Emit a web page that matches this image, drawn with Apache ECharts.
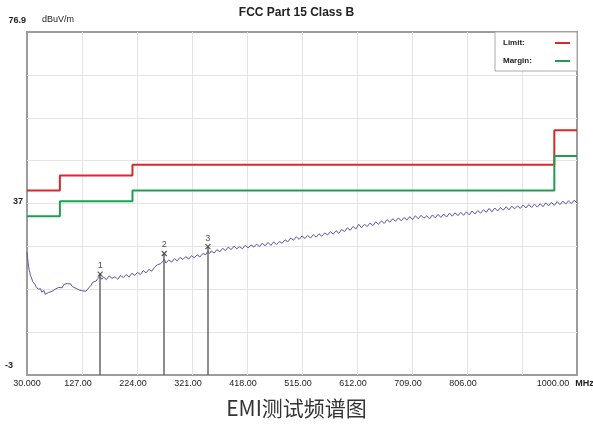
<!DOCTYPE html>
<html><head><meta charset="utf-8">
<script src="https://cdn.jsdelivr.net/npm/echarts@6/dist/echarts.min.js"></script>
<style>html,body{margin:0;padding:0;background:#fff}#c{width:593px;height:428px}</style>
</head><body><div id="c"></div>
<script>
const X_MIN = 30, X_MAX = 1000, X_DIV = 10;
const Y_MIN = -3, Y_MAX = 76.9, Y_DIV = 8;
const xTickLabels = ['30.000','127.00','224.00','321.00','418.00','515.00','612.00','709.00','806.00','','1000.00'];
const yTickLabels = ['-3','','','','37','','','','76.9'];

const limitFreqs = [30, 88, 216, 960, 1000];
const limitVals  = [40, 43.5, 46, 54, 54];
const marginVals = [34, 37.5, 40, 48, 48];

const traceFreqs = [30,31,32,33,34,35,36,38,40,42,44,46,48,50,52,54,56,58,60,62,65,68,71,74,77,80,83,86,89,92,95,98,101,104,107,110,113,116,119,122,125,128,131,134,137,140,143,146,149,152,155,159,162,
165,170,175,180,185,190,195,200,205,210,215,220,225,230,235,240,245,250,255,260,265,270,272,275,280,285,290,295,300,305,310,315,320,325,330,335,340,345,349,352,355,360,365,370,375,380,385,390,395,400,
405,410,415,420,425,430,435,440,445,450,455,460,465,470,475,480,485,490,495,500,505,510,515,520,525,530,535,540,545,550,555,560,565,570,575,580,585,590,595,600,
605,610,615,620,625,630,635,640,645,650,655,660,665,670,675,680,685,690,695,700,705,710,715,720,725,730,735,740,745,750,755,760,765,770,775,780,785,790,795,800,
805,810,815,820,825,830,835,840,845,850,855,860,865,870,875,880,885,890,895,900,905,910,915,920,925,930,935,940,945,950,955,960,965,970,975,980,985,990,995,1000];
const traceVals = [25.6,24.3,23.1,22.2,21.4,20.9,20.2,19.6,18.8,18.9,18.1,17.6,17.9,17.0,16.6,17.1,16.3,16.0,16.7,15.8,15.4,16.2,15.9,16.5,16.2,17.0,16.6,17.4,17.8,17.3,18.1,17.7,18.3,17.9,18.2,17.6,17.9,17.2,17.4,16.8,17.1,16.6,16.9,16.5,17.0,17.4,17.9,18.6,18.2,18.9,19.5,19.9,19.3,
19.8,19.2,20.1,19.5,19.9,19.3,20.2,19.7,20.4,19.8,20.7,20.2,20.9,20.4,21.3,20.8,21.6,21.2,22.1,22.7,22.9,23.5,24.0,23.1,23.8,23.3,24.1,23.6,24.4,23.9,24.6,24.0,24.8,24.3,25.0,24.5,25.3,25.0,25.9,25.3,25.9,25.4,26.2,25.7,26.5,26.0,26.8,26.2,27.0,26.4,
26.9,26.4,27.2,26.6,27.3,26.8,27.5,26.9,27.7,27.1,27.9,27.2,28.0,27.4,28.1,27.7,28.5,28.0,28.9,28.4,29.2,28.6,29.4,28.8,29.5,28.9,29.7,29.1,29.9,29.3,30.1,29.6,30.4,29.8,30.6,30.0,30.9,30.4,31.3,30.7,
31.6,31.0,32.1,31.3,32.1,31.6,32.4,31.8,32.7,32.1,32.9,32.3,33.2,32.6,33.4,32.8,33.6,32.9,33.7,33.1,33.9,33.2,34.1,33.4,34.2,33.5,34.1,33.4,34.3,33.6,34.4,33.7,34.5,33.8,34.7,34.0,34.8,34.1,34.9,34.2,
35.0,34.3,35.2,34.5,35.3,34.7,35.5,34.9,35.8,35.0,35.9,35.2,36.0,35.4,36.2,35.5,36.3,35.7,36.4,35.8,36.6,35.9,36.7,36.0,36.8,36.1,36.9,36.2,37.1,36.4,37.2,36.5,37.4,36.7,37.5,36.8,37.6,36.9,37.7,37.1];

const markerNames = ['1', '2', '3'];
const markerFreqs = [159, 272, 349];
const markerVals  = [20.5, 25.3, 26.9];

const chart = echarts.init(document.getElementById('c'));
const font = 'Liberation Sans, Arial, sans-serif';
const gridColor = '#e4e4e4';
const legendFont = 'bold 8px ' + font;
const mctx = document.createElement('canvas').getContext('2d');
mctx.font = legendFont;
const LEGEND_TEXT_W = 47;

chart.setOption({
  animation: false,
  backgroundColor: '#fff',
  title: [
    { text: 'FCC Part 15 Class B', left: 'center', top: 7, padding: 0,
      textStyle: { fontSize: 12, fontWeight: 'bold', color: '#222', fontFamily: font } },
    { text: 'EMI测试频谱图', left: 'center', top: 398, padding: 0,
      textStyle: { fontSize: 21, fontWeight: 'normal', color: '#333', fontFamily: 'Noto Sans CJK SC' } }
  ],
  grid: { left: 27, right: 16, top: 32, bottom: 53, containLabel: false, outerBoundsMode: 'none',
    show: true, borderColor: '#9c9c9c', borderWidth: 2, backgroundColor: 'transparent' },
  legend: {
    data: ['Limit', 'Margin'], orient: 'vertical', right: 16, top: 32, align: 'right',
    backgroundColor: '#fff', borderColor: '#aaa', borderWidth: 1, padding: [7, 7, 6, 8],
    itemGap: 10, itemWidth: 15, itemHeight: 2, icon: 'rect',
    formatter: n => '{t' + n + '|' + n + ':}',
    textStyle: { fontSize: 8, fontWeight: 'bold', color: '#222', fontFamily: font,
      rich: {
        tLimit: { fontSize: 8, fontWeight: 'bold', color: '#222', fontFamily: font,
          padding: [0, Math.max(0, LEGEND_TEXT_W - mctx.measureText('Limit:').width), 0, 0] },
        tMargin: { fontSize: 8, fontWeight: 'bold', color: '#222', fontFamily: font,
          padding: [0, Math.max(0, LEGEND_TEXT_W - mctx.measureText('Margin:').width), 0, 0] }
      } }
  },
  xAxis: [
    { type: 'value', min: X_MIN, max: X_MAX, show: false },
    { type: 'value', min: 0, max: X_DIV, interval: 1, position: 'bottom',
      axisLine: { show: false }, axisTick: { show: false },
      splitLine: { show: true, showMinLine: false, showMaxLine: false, lineStyle: { color: gridColor, width: 1 } },
      axisLabel: { margin: 4, fontSize: 9, color: '#222', fontFamily: font,
        formatter: v => {
          const i = Math.round(v); const t = xTickLabels[i] || '';
          if (!t) return '';
          if (i === 0) return '{f|' + t + '}';
          return i === X_DIV ? '{l|' + t + '}' : '{m|' + t + '}';
        },
        rich: {
          f: { fontSize: 9, color: '#222', fontFamily: font },
          m: { fontSize: 9, color: '#222', fontFamily: font, padding: [0, 8, 0, 0] },
          l: { fontSize: 9, color: '#222', fontFamily: font, padding: [0, 48, 0, 0] }
        } },
      name: 'MHz', nameLocation: 'end', nameGap: -3,
      nameTextStyle: { fontSize: 9, fontWeight: 'bold', color: '#222', fontFamily: font, verticalAlign: 'top', padding: [4, 0, 0, 0] } }
  ],
  yAxis: [
    { type: 'value', min: Y_MIN, max: Y_MAX, show: false },
    { type: 'value', min: 0, max: Y_DIV, interval: 1, position: 'left',
      axisLine: { show: false }, axisTick: { show: false },
      splitLine: { show: true, showMinLine: false, showMaxLine: false, lineStyle: { color: gridColor, width: 1 } },
      axisLabel: { margin: 1, fontSize: 9, fontWeight: 'bold', color: '#222', fontFamily: font,
        formatter: v => {
          const i = Math.round(v); const t = yTickLabels[i] || '';
          if (!t) return '';
          if (i === 0) return '{b|' + t + '}';
          if (i === Y_DIV) return '{t|' + t + '}';
          return '{m|' + t + '}';
        },
        rich: {
          b: { fontSize: 9, fontWeight: 'bold', color: '#222', padding: [0, 13, 18, 0] },
          m: { fontSize: 9, fontWeight: 'bold', color: '#222', padding: [0, 3, 3, 0] },
          t: { fontSize: 9, color: '#222', padding: [0, 0, 22, 0] }
        } },
      name: 'dBuV/m', nameLocation: 'end', nameGap: 8,
      nameTextStyle: { fontSize: 9, color: '#222', fontFamily: font, align: 'left', padding: [0, 0, 0, 15] } }
  ],
  series: [
    { name: 'Trace', type: 'line', xAxisIndex: 0, yAxisIndex: 0, symbol: 'none', z: 3,
      lineStyle: { color: '#5557a8', width: 1 },
      data: traceFreqs.map((f, i) => [f, traceVals[i]]) },
    { name: 'Limit', type: 'line', step: 'end', xAxisIndex: 0, yAxisIndex: 0, symbol: 'none', z: 4,
      color: '#d8282e', lineStyle: { color: '#d8282e', width: 2 },
      data: limitFreqs.map((f, i) => [f, limitVals[i]]) },
    { name: 'Margin', type: 'line', step: 'end', xAxisIndex: 0, yAxisIndex: 0, symbol: 'none', z: 4,
      color: '#1f9e52', lineStyle: { color: '#1f9e52', width: 2 },
      data: limitFreqs.map((f, i) => [f, marginVals[i]]) },
    { name: 'Markers', type: 'scatter', xAxisIndex: 0, yAxisIndex: 0, z: 5,
      symbol: 'path://M0,0L10,10M10,0L0,10', symbolSize: 5,
      itemStyle: { color: 'transparent', borderColor: '#333', borderWidth: 1.2 },
      label: { show: true, position: 'top', distance: 1, formatter: p => p.name,
        fontSize: 9, color: '#222', fontFamily: font },
      data: markerFreqs.map((f, i) => ({ name: markerNames[i], value: [f, markerVals[i]] })),
      markLine: { silent: true, symbol: ['none', 'none'], label: { show: false },
        lineStyle: { color: '#666', width: 1.5, type: 'solid' },
        data: markerFreqs.map((f, i) => [{ coord: [f, markerVals[i]] }, { coord: [f, Y_MIN] }]) } }
  ]
});
</script></body></html>
